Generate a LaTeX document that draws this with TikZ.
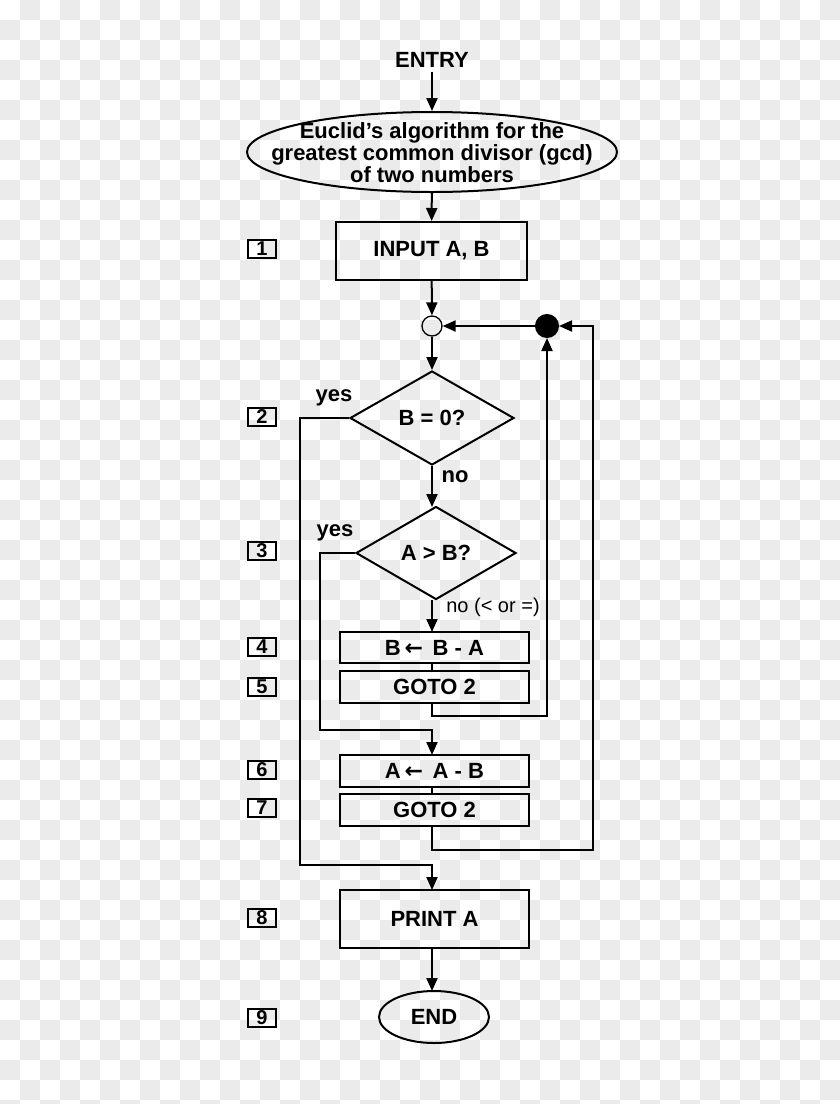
\documentclass[tikz,border=0pt]{standalone}
\usepackage{fontspec}
\setmainfont{Liberation Sans}
\newfontfamily\djv{DejaVu Sans}
\usetikzlibrary{shapes.geometric,arrows.meta}
\definecolor{chk}{HTML}{EBEBEB}
\begin{document}
\begin{tikzpicture}[x=1pt,y=-1pt,
  every node/.style={font=\bfseries\fontsize{22}{23}\selectfont, line width=2pt},
  box/.style={draw, minimum width=189pt, inner sep=0pt},
  num/.style={draw, line width=1.3pt, minimum width=28pt, minimum height=18pt, inner sep=0pt, font=\bfseries\fontsize{20}{20}\selectfont},
  dia/.style={draw, diamond, aspect=1.72, minimum width=164pt, minimum height=94pt, inner sep=0pt},
  lbl/.style={font=\bfseries\fontsize{22}{23}\selectfont},
  ar/.style={line width=2pt, -{Triangle[length=13pt,width=11pt]}},
  ln/.style={line width=2pt}]
\useasboundingbox (0,0) rectangle (840,1104);
\fill[white] (0,0) rectangle (840,1104);
\foreach \i in {0,...,41}{\foreach \j in {0,...,55}{
  \pgfmathtruncatemacro\odd{mod(\i+\j,2)}
  \ifnum\odd=1 \fill[chk] (\i*20,\j*20) rectangle ++(20,20);\fi}}
\node[lbl] (entry) at (432,60) {ENTRY};
\node[draw, ellipse, minimum width=370pt, minimum height=80pt, inner sep=0pt] (title) at (432,152) {};
\node[align=center, inner sep=0pt, font=\bfseries\fontsize{22}{22}\selectfont] (tt) at (432,153) {Euclid's algorithm for the\\greatest common divisor (gcd)\\of two numbers};
\node[box, minimum width=191pt, minimum height=58pt] (b1) at (431.5,251) {INPUT A, B};
\node[draw, circle, line width=1.3pt, minimum size=20pt, inner sep=0pt] (c1) at (432,326) {};
\node[draw, circle, fill=black, minimum size=22pt, inner sep=0pt] (c2) at (547,326) {};
\node[dia] (d1) at (432,418) {};
\node (d1t) at (432,418) {B = 0?};
\node[dia, minimum width=160pt, minimum height=93pt] (d2) at (436,553) {};
\node (d2t) at (436,553) {A > B?};
\node[box, minimum height=31pt] (b4) at (434.5,647.5) {B{\djv\,←\,} B - A};
\node[box, minimum height=32pt] (b5) at (434.5,687) {GOTO 2};
\node[box, minimum height=32pt] (b6) at (434.5,771) {A{\djv\,←\,} A - B};
\node[box, minimum height=32pt] (b7) at (434.5,810) {GOTO 2};
\node[box, minimum height=58pt] (b8) at (434.5,919) {PRINT A};
\node[draw, ellipse, minimum width=110pt, minimum height=52pt, inner sep=0pt] (end) at (434,1017) {};
\node (endt) at (434,1017) {END};
\node[lbl] (y1) at (334,398) {yes};
\node[lbl] (n1) at (455,477) {no};
\node[lbl] (y2) at (335,533) {yes};
\node[lbl, font=\fontsize{20}{20}\selectfont] (n2) at (493,607) {no (< or =)};
\foreach \n/\y in {1/249,2/417,3/551,4/647,5/687,6/770,7/808,8/918,9/1018}
  \node[num] (n\n) at (262,\y) {\n};
\coordinate (k1) at (300,418);
\coordinate (k2) at (300,865);
\coordinate (k3) at (432,865);
\coordinate (m1) at (320,553);
\coordinate (m2) at (320,730);
\coordinate (m3) at (432,730);
\coordinate (p0) at (432,703);
\coordinate (p1) at (432,716);
\coordinate (p2) at (547,716);
\coordinate (q0) at (432,826);
\coordinate (q1) at (432,850);
\coordinate (q2) at (593,850);
\coordinate (q3) at (593,326);
\coordinate (d2b) at (432,600);
\coordinate (d2top) at (432,507);
\coordinate (b4t) at (432,632);
\coordinate (b6t) at (432,755);
\coordinate (b8t) at (432,890);
\coordinate (b8b) at (432,948);
\coordinate (ent) at (432,991);
\draw[ar] (entry) -- (title);
\draw[ar] (title) -- (b1);
\draw[ar] (b1) -- (c1);
\draw[ar] (c2) -- (c1);
\draw[ar] (c1) -- (d1);
\draw[ar] (d1.south) -- (d2top);
\draw[ar] (d2b) -- (b4t);
\draw[ln] (432,663) -- (432,671);
\draw[ln] (432,787) -- (432,794);
\draw[ar] (d1.west) -- (k1) -- (k2) -- (k3) -- (b8t);
\draw[ar] (d2.west) -- (m1) -- (m2) -- (m3) -- (b6t);
\draw[ar] (p0) -- (p1) -- (p2) -- (c2);
\draw[ar] (q0) -- (q1) -- (q2) -- (q3) -- (c2);
\draw[ar] (b8b) -- (ent);
\end{tikzpicture}
\end{document}
